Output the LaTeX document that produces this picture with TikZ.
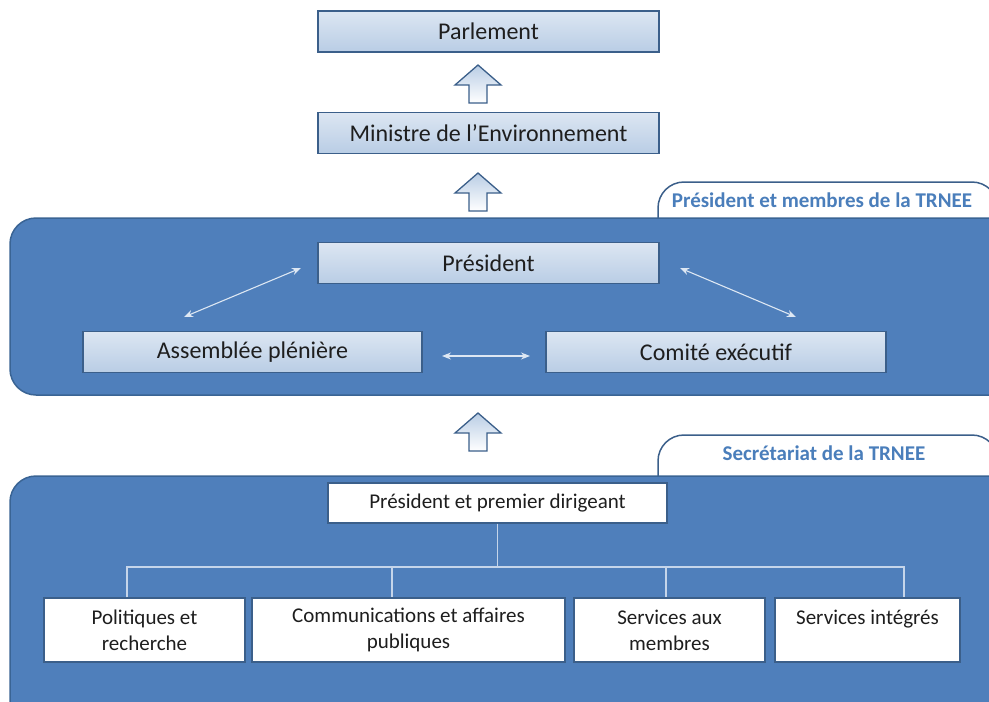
\documentclass[tikz,border=0pt]{standalone}
\usepackage{fontspec}
\setmainfont{Carlito}
\usetikzlibrary{arrows.meta}
\definecolor{boxborder}{HTML}{3B5F8A}
\definecolor{lighttop}{HTML}{DCE6F2}
\definecolor{lightbot}{HTML}{B9CDE5}
\definecolor{contfill}{HTML}{4F7FBB}
\definecolor{contborder}{HTML}{3A6494}
\definecolor{tabtext}{HTML}{4A7EBB}
\definecolor{txt}{HTML}{1E1E1E}
\definecolor{lightline}{HTML}{DDE7F3}
\definecolor{treecol}{HTML}{C5D5EA}
\tikzset{
  lbox/.style={draw=boxborder, line width=1.3pt, top color=lighttop, bottom color=lightbot,
    minimum height=41pt, inner sep=0pt, text=txt, font=\fontsize{24}{28}\selectfont},
  wbox/.style={draw=boxborder, line width=1.1pt, fill=white, inner sep=0pt, text=txt,
    align=center, font=\fontsize{21}{26}\selectfont},
  container/.style={draw=contborder, line width=1.5pt, fill=contfill, rounded corners=26pt},
  tabshape/.style={draw=boxborder, line width=1.5pt, fill=white},
  tabtext/.style={text=tabtext, font=\bfseries\fontsize{21}{24}\selectfont},
  lightarrow/.style={draw=lightline, line width=1.1pt, {Stealth[length=9pt,width=7pt]}-{Stealth[length=9pt,width=7pt]}},
  treeline/.style={draw=treecol, line width=1.3pt},
  uparrow/.pic={
    \path[draw=boxborder, line width=1.3pt, top color=lightbot, bottom color=white]
      (-23,20) -- (0,0) -- (23,20) -- (9,20) -- (9,38) -- (-9,38) -- (-9,20) -- cycle;
  }
}
\begin{document}
\begin{tikzpicture}[x=1pt,y=-1pt]
\useasboundingbox (0,0) rectangle (989,702);
\clip (0,0) rectangle (989,702);

% top boxes
\node[lbox, minimum width=341pt] (parl) at (488.5,31.5) {Parlement};
\node[lbox, minimum width=341pt] (min) at (488.5,133) {Ministre de l’Environnement};
\pic (arrA) at (478,65) {uparrow};
\pic (arrB) at (478,173) {uparrow};

% first group
\draw[tabshape, rounded corners=26pt] (658,226) -- (658,182) -- (998,182) -- (998,226);
\node[tabtext] (tab1) at (822,200) {Président et membres de la TRNEE};
\draw[container] (10,218) rectangle (1015,395);

\node[lbox, minimum width=341pt] (pres) at (488.5,263) {Président};
\node[lbox, minimum width=339pt] (assem) at (252.5,352) {Assemblée plénière};
\node[lbox, minimum width=340pt] (comite) at (716,352) {Comité exécutif};

\coordinate (pl) at (301,268);
\coordinate (al) at (184,317);
\coordinate (pr) at (680,268);
\coordinate (cr) at (796,317);
\coordinate (am) at (442,356);
\coordinate (cm) at (530,356);
\draw[lightarrow] (pl) -- (al);
\draw[lightarrow] (pr) -- (cr);
\draw[lightarrow] (am) -- (cm);

\pic (arrC) at (478,413) {uparrow};

% second group
\draw[tabshape, rounded corners=26pt] (658,482) -- (658,435) -- (998,435) -- (998,482);
\node[tabtext] (tab2) at (824,453) {Secrétariat de la TRNEE};
\draw[container] (10,476) rectangle (1015,740);

\node[wbox, minimum width=339pt, minimum height=40pt] (ppd) at (497.5,503) {Président et premier dirigeant};
\node[wbox, minimum width=201pt, minimum height=64pt] (pol) at (144.5,630) {Politiques et\\recherche};
\node[wbox, minimum width=313pt, minimum height=64pt] (com) at (408.5,630) {Communications et affaires\\publiques};
\node[wbox, minimum width=191pt, minimum height=64pt] (sam) at (669.5,630) {Services aux\\membres};
\node[wbox, minimum width=185pt, minimum height=64pt] (sint) at (867.5,630) {Services intégrés\\\mbox{}};

\coordinate (bus) at (497.5,567);
\draw[treeline] (ppd.south) -- (bus);
\draw[treeline] (127,0 |- pol.north) -- (127,567) -- (904,567) -- (904,0 |- sint.north);
\draw[treeline] (392,567) -- (392,0 |- com.north);
\draw[treeline] (666,567) -- (666,0 |- sam.north);
\end{tikzpicture}
\end{document}
